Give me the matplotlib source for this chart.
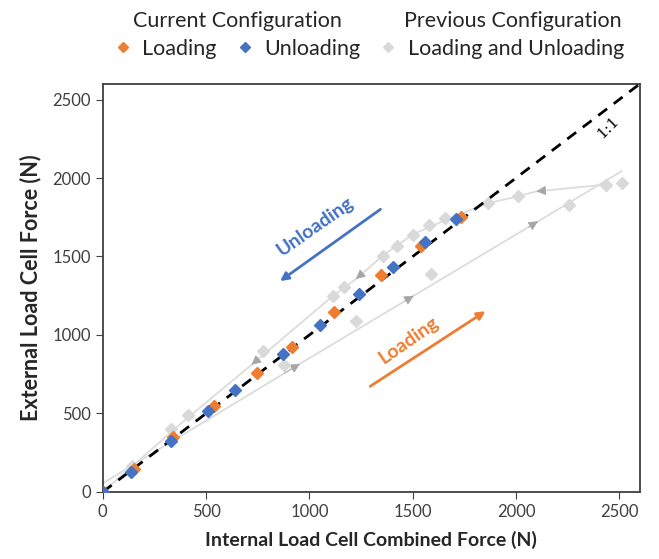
import matplotlib.pyplot as plt
from matplotlib.lines import Line2D

plt.rcParams['font.family'] = ['Lato', 'DejaVu Sans']

# current configuration
load_x = [0, 150, 340, 540, 745, 915, 1120, 1345, 1540, 1735]
load_y = [0, 145, 350, 545, 755, 925, 1145, 1380, 1565, 1750]
unload_x = [1710, 1560, 1405, 1240, 1050, 870, 640, 510, 330, 135, 0]
unload_y = [1740, 1590, 1430, 1260, 1065, 880, 650, 517, 325, 130, 0]

# previous configuration (markers)
prev_x = [140, 329, 413, 776, 878, 1115, 1168, 1225, 1358, 1425, 1500, 1580,
          1591, 1655, 1865, 2010, 2257, 2435, 2511]
prev_y = [165, 400, 491, 901, 810, 1246, 1305, 1090, 1505, 1565, 1639, 1703,
          1390, 1745, 1840, 1883, 1830, 1958, 1969]

# previous configuration (paths)
prev_load_line_x = [0, 954, 1505, 2107, 2511]
prev_load_line_y = [55, 816, 1250, 1724, 2043]
prev_unload_line_x = [2435, 2099, 2010, 1865, 1700, 1500, 1360, 1225, 1115, 720, 400, 0]
prev_unload_line_y = [1958, 1915, 1883, 1840, 1755, 1640, 1510, 1356, 1250, 810, 460, 0]
# arrow heads along the paths (index of point carrying the head)
load_arrow_idx = [1, 2, 3]
unload_arrow_idx = [1, 7, 9]

orange = '#ED7D31'
blue = '#4472C4'

fig = plt.figure(figsize=(6.59, 5.59), dpi=100)
ax = fig.add_axes([0.156, 0.120, 0.815, 0.730])

ax.plot(prev_load_line_x, prev_load_line_y, color='#dcdcdc', lw=1.3, zorder=1)
ax.plot(prev_unload_line_x, prev_unload_line_y, color='#dcdcdc', lw=1.3, zorder=1)
for xs, ys, idxs in [(prev_load_line_x, prev_load_line_y, load_arrow_idx),
                     (prev_unload_line_x, prev_unload_line_y, unload_arrow_idx)]:
    for i in idxs:
        # short back-step along the segment so only the head shows
        bx = xs[i] - 0.08 * (xs[i] - xs[i - 1])
        by = ys[i] - 0.08 * (ys[i] - ys[i - 1])
        ax.annotate('', xy=(xs[i], ys[i]), xytext=(bx, by),
                    arrowprops=dict(arrowstyle='-|>', color='#a6a6a6', lw=0.5,
                                    mutation_scale=15, shrinkA=0, shrinkB=0),
                    zorder=2)

ax.plot(prev_x, prev_y, 'D', color='#d9d9d9', ms=6, zorder=3)
ax.plot([0, 2600], [0, 2600], '--', color='black', lw=2, dashes=(4, 3), zorder=4)
ax.plot(load_x, load_y, 'D', color=orange, ms=6, zorder=5)
ax.plot(unload_x, unload_y, 'D', color=blue, ms=6, zorder=6)

ax.set_xlim(0, 2600)
ax.set_ylim(0, 2600)
ax.set_xticks([0, 500, 1000, 1500, 2000, 2500])
ax.set_yticks([0, 500, 1000, 1500, 2000, 2500])
ax.tick_params(direction='out', length=5, labelsize=12, colors='#404040',
               labelcolor='#404040')
for s in ax.spines.values():
    s.set_color('#404040')
    s.set_linewidth(1.3)
ax.set_xlabel('Internal Load Cell Combined Force (N)', fontsize=14,
              fontweight='bold', color='#262626', labelpad=8)
ax.set_ylabel('External Load Cell Force (N)', fontsize=15.5,
              fontweight='bold', color='#262626', labelpad=8)

# direction annotations
ax.annotate('', xy=(847, 1333), xytext=(1355, 1811),
            arrowprops=dict(arrowstyle='-|>', color=blue, lw=2, mutation_scale=12))
ax.text(1031, 1690, 'Unloading', color=blue, fontsize=14, fontweight='bold',
        rotation=35, ha='center', va='center')
ax.annotate('', xy=(1864, 1161), xytext=(1283, 663),
            arrowprops=dict(arrowstyle='-|>', color=orange, lw=2, mutation_scale=12))
ax.text(1481, 969, 'Loading', color=orange, fontsize=14, fontweight='bold',
        rotation=35, ha='center', va='center')
ax.text(2444, 2321, '1:1', fontsize=11, family='DejaVu Serif', rotation=45,
        ha='center', va='center')

# legend
fig.text(0.361, 0.962, 'Current Configuration', fontsize=15.5, ha='center',
         va='center', color='#262626')
fig.text(0.778, 0.962, 'Previous Configuration', fontsize=15.5, ha='center',
         va='center', color='#262626')
handles = [Line2D([], [], ls='', marker='D', color=orange, ms=5),
           Line2D([], [], ls='', marker='D', color=blue, ms=5),
           Line2D([], [], ls='', marker='D', color='#d9d9d9', ms=5)]
fig.legend(handles, ['Loading', 'Unloading', 'Loading and Unloading'],
           loc='center', bbox_to_anchor=(0.56, 0.913), ncol=3, frameon=False,
           fontsize=15.5, handlelength=0.8, handletextpad=0.5, columnspacing=0.9,
           labelcolor='#262626')

fig.savefig('out.png', dpi=100)
